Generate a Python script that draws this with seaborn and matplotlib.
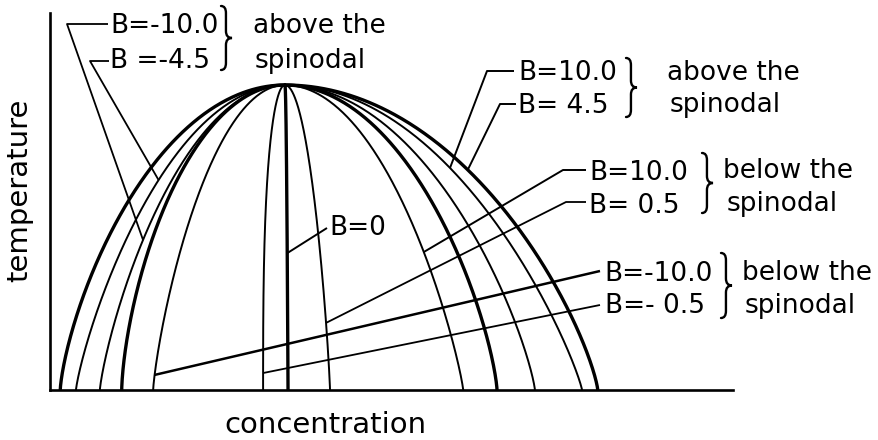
import numpy as np
import pandas as pd
import matplotlib
matplotlib.use("Agg")
import matplotlib.pyplot as plt
from matplotlib.path import Path
from matplotlib.patches import PathPatch
import seaborn as sns

# Critical point shared by every coexistence / spinodal curve
crit_conc = 0.344
crit_temp = 0.809

# Concentration where each curve meets the base line, left to right
end_conc = [0.015, 0.038, 0.073, 0.105, 0.151, 0.312, 0.3485, 0.410,
            0.605, 0.6545, 0.710, 0.779, 0.802]
# Flatness exponent of each dome
dome_power = [0.72, 0.82, 0.80, 0.65, 0.79, 0.35, 1.0, 0.85,
              0.85, 0.74, 0.80, 0.86, 0.78]

# Curve labels, the curve each one names, and the temperature where its leader meets it
label_text = ["B=-10.0", "B =-4.5", "B=10.0", "B= 4.5",
              "B=10.0", "B= 0.5", "B=-10.0", "B=- 0.5", "B=0"]
label_curve = [2, 1, 11, 12, 8, 7, 4, 5, 6]
label_temp = [0.398, 0.557, 0.589, 0.584, 0.366, 0.178, 0.040, 0.045, 0.363]

group_text = ["above the\nspinodal", "above the\nspinodal",
              "below the\nspinodal", "below the\nspinodal"]

# stroke weight of each curve
curve_weight = ["heavy", "light", "light", "heavy", "light", "light", "heavy",
                "light", "light", "heavy", "light", "light", "heavy"]

sns.set_theme(style="white")
plt.rcParams["font.family"] = ["DejaVu Sans"]
plt.rcParams["text.color"] = "black"

W, H = 879, 440
AX_L, AX_R, AX_T, AX_B = 50, 733, 13, 390


def px(x, y):
    """Figure pixel position (top-left origin) -> data coordinates."""
    return (x - AX_L) / (AX_R - AX_L), (AX_B - y) / (AX_B - AX_T)


def on_curve(i, t):
    u = np.sqrt(1 - (t / crit_temp) ** (1 / dome_power[i]))
    return crit_conc + u * (end_conc[i] - crit_conc), t


# sample every dome from the critical point down to the base line
theta = np.linspace(0, np.pi / 2, 300)
rows = []
for i, (ce, q) in enumerate(zip(end_conc, dome_power)):
    u = np.sin(theta)
    conc = crit_conc + u * (ce - crit_conc)
    temp = crit_temp * np.clip(np.cos(theta), 0, None) ** (2 * q)
    rows.append(pd.DataFrame({"conc": conc, "temp": temp, "curve": i,
                              "weight": curve_weight[i]}))
curves = pd.concat(rows, ignore_index=True)

fig = plt.figure(figsize=(W / 100, H / 100), dpi=100)
ax = fig.add_axes([AX_L / W, (H - AX_B) / H, (AX_R - AX_L) / W, (AX_B - AX_T) / H])

sns.lineplot(data=curves, x="conc", y="temp", units="curve", estimator=None,
             sort=False, size="weight", sizes={"heavy": 2.4, "light": 1.4},
             color="black", legend=False, ax=ax)

ax.set_xlim(0, 1)
ax.set_ylim(0, 1)
ax.set_xticks([])
ax.set_yticks([])
ax.set_xlabel("")
ax.set_ylabel("")
sns.despine(ax=ax)
for side in ("left", "bottom"):
    ax.spines[side].set_linewidth(1.9)
    ax.spines[side].set_color("black")

# leader geometry: elbow points on the label side, then text anchor (pixels)
leaders = [
    [(67, 24), (108, 24)],
    [(90, 61), (109, 61)],
    [(487, 71), (514, 71)],
    [(500, 104), (516, 104)],
    [(563, 170), (586, 170)],
    [(566, 202), (586, 202)],
    [(600, 271)],
    [(600, 305)],
    [(327, 228)],
]
text_anchor = [(110, 33), (110, 68), (518, 80), (518, 113),
               (589, 180), (589, 213), (604, 281), (605, 313), (329, 235)]
leader_lw = [1.3, 1.3, 1.4, 1.4, 1.4, 1.3, 1.8, 1.3, 1.4]

for k, txt in enumerate(label_text):
    start = on_curve(label_curve[k], label_temp[k])
    pts = [start] + [px(*p) for p in leaders[k]]
    xs, ys = zip(*pts)
    ax.plot(xs, ys, color="black", lw=leader_lw[k], clip_on=False,
            solid_capstyle="butt")
    tx, ty = px(*text_anchor[k])
    ax.text(tx, ty, txt, fontsize=19, color="black", ha="left", va="baseline",
            clip_on=False)


def brace(x0, y_top, y_bot, width=11, r=7):
    xm = x0 + width * 0.45
    ym = (y_top + y_bot) / 2
    verts = [(x0, y_top), (xm, y_top), (xm, y_top + r),
             (xm, ym - r), (xm, ym), (x0 + width, ym),
             (xm, ym), (xm, ym + r),
             (xm, y_bot - r), (xm, y_bot), (x0, y_bot)]
    codes = [Path.MOVETO, Path.CURVE3, Path.CURVE3,
             Path.LINETO, Path.CURVE3, Path.CURVE3,
             Path.CURVE3, Path.CURVE3,
             Path.LINETO, Path.CURVE3, Path.CURVE3]
    path = Path([px(*v) for v in verts], codes)
    ax.add_patch(PathPatch(path, fill=False, lw=1.7, edgecolor="black",
                           clip_on=False, capstyle="round"))


for b in [(221, 6, 70), (626, 58, 117), (702, 153, 213), (721, 253, 318)]:
    brace(*b)

group_anchor = [[(253, 33), (255, 68)], [(667, 80), (670, 112)],
                [(723, 178), (727, 211)], [(742, 280), (745, 313)]]
for g, txt in enumerate(group_text):
    for line, (gx, gy) in zip(txt.split("\n"), group_anchor[g]):
        x, y = px(gx, gy)
        ax.text(x, y, line, fontsize=19, color="black", ha="left",
                va="baseline", clip_on=False)

x, y = px(325, 433)
ax.text(x, y, "concentration", fontsize=21, color="black", ha="center",
        va="baseline", clip_on=False)
x, y = px(19, 190)
ax.text(x, y, "temperature", fontsize=21, color="black", rotation=90,
        ha="center", va="center", clip_on=False)

fig.savefig("out.png", dpi=100)
